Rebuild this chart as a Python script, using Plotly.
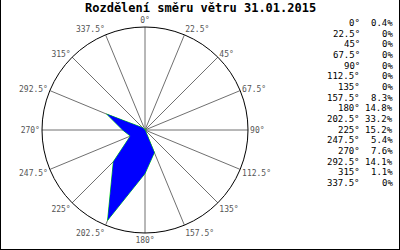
import plotly.graph_objects as go

angles = [0, 22.5, 45, 67.5, 90, 112.5, 135, 157.5, 180, 202.5, 225, 247.5, 270, 292.5, 315, 337.5]
angle_labels = ["0", "22.5", "45", "67.5", "90", "112.5", "135", "157.5", "180", "202.5", "225", "247.5", "270", "292.5", "315", "337.5"]
percents = [0.4, 0, 0, 0, 0, 0, 0, 8.3, 14.8, 33.2, 15.2, 5.4, 7.6, 14.1, 1.1, 0]
pct_labels = ["0.4%", "0%", "0%", "0%", "0%", "0%", "0%", "8.3%", "14.8%", "33.2%", "15.2%", "5.4%", "7.6%", "14.1%", "1.1%", "0%"]
title_text = "Rozdělení směru větru 31.01.2015"

W, H = 400, 250
FONT = "DejaVu Sans Mono"

r_closed = percents + [percents[0]]
t_closed = angles + [angles[0]]

fig = go.Figure()
fig.add_trace(go.Scatterpolar(r=r_closed, theta=t_closed, mode="lines",
                              line=dict(color="#00e000", width=1), hoverinfo="skip"))
fig.add_trace(go.Scatterpolar(r=r_closed, theta=t_closed, mode="lines", fill="toself",
                              fillcolor="#0000ff", line=dict(color="#0000ff", width=0),
                              hoverinfo="skip"))

cx, cy, R = 145, 130, 103
fig.update_layout(
    width=W, height=H,
    margin=dict(l=0, r=0, t=0, b=0),
    paper_bgcolor="white",
    showlegend=False,
    polar=dict(
        domain=dict(x=[(cx - R) / W, (cx + R) / W], y=[(H - cy - R) / H, (H - cy + R) / H]),
        bgcolor="white",
        radialaxis=dict(range=[0, 35], visible=False),
        angularaxis=dict(
            rotation=90, direction="clockwise",
            tickmode="array", tickvals=angles,
            ticktext=[a + "°" for a in angle_labels],
            ticks="", showline=True, linecolor="black", linewidth=1,
            showgrid=True, gridcolor="#707070", gridwidth=1,
            tickfont=dict(family=FONT, size=8, color="#555555"),
        ),
    ),
)

annotations = [dict(text="<b>" + title_text + "</b>", x=200 / W, y=1 - 8 / H, xref="paper", yref="paper",
                    xanchor="center", yanchor="middle", showarrow=False,
                    font=dict(family=FONT, size=12, color="black"))]
for i, (a, p) in enumerate(zip(angle_labels, pct_labels)):
    yy = 1 - (23 + i * 10.67) / H
    annotations.append(dict(text=a + "°", x=362 / W, y=yy, xref="paper", yref="paper",
                            xanchor="right", yanchor="middle", showarrow=False,
                            font=dict(family=FONT, size=9, color="black")))
    annotations.append(dict(text=p, x=395 / W, y=yy, xref="paper", yref="paper",
                            xanchor="right", yanchor="middle", showarrow=False,
                            font=dict(family=FONT, size=9, color="black")))
fig.update_layout(annotations=annotations)

fig.update_layout(shapes=[
    dict(type="line", xref="paper", yref="paper", x0=0.5 / W, x1=0.5 / W, y0=0, y1=1,
         line=dict(color="black", width=1)),
    dict(type="line", xref="paper", yref="paper", x0=1 - 0.5 / W, x1=1 - 0.5 / W, y0=0, y1=1,
         line=dict(color="black", width=1)),
    dict(type="line", xref="paper", yref="paper", x0=0, x1=1, y0=0.5 / H, y1=0.5 / H,
         line=dict(color="black", width=1)),
])

fig.write_html("out.html")
